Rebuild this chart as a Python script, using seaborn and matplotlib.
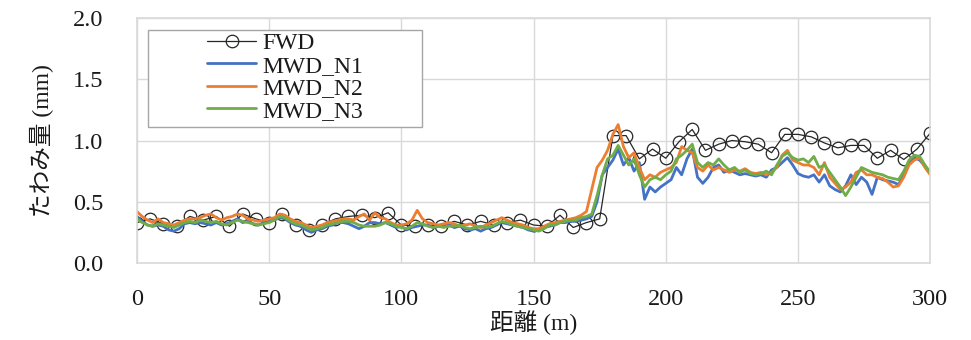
import numpy as np
import pandas as pd
import matplotlib
matplotlib.use("Agg")
import matplotlib.pyplot as plt
from matplotlib.patches import Rectangle
import seaborn as sns

# FWD deflection, measured every 5 m
fwd_x = list(range(0, 301, 5))
fwd_y = [0.33, 0.36, 0.32, 0.30, 0.38, 0.35, 0.38, 0.30, 0.40, 0.36,
         0.33, 0.40, 0.31, 0.27, 0.31, 0.36, 0.38, 0.39, 0.37, 0.41,
         0.31, 0.30, 0.31, 0.30, 0.34, 0.31, 0.34, 0.31, 0.33, 0.35,
         0.31, 0.30, 0.39, 0.29, 0.33, 0.36, 1.04, 1.04, 0.85, 0.93,
         0.855, 0.99, 1.09, 0.92, 0.97, 1.00, 0.99, 0.97, 0.90, 1.05,
         1.05, 1.03, 0.98, 0.94, 0.96, 0.96, 0.855, 0.92, 0.845, 0.93,
         1.06]

# MWD deflection, every 2 m
mwd_x = list(range(0, 301, 2))
mwd_n1 = [0.38, 0.34, 0.31, 0.30, 0.31, 0.30, 0.27, 0.26, 0.28, 0.32,
          0.33, 0.32, 0.33, 0.32, 0.31, 0.33, 0.31, 0.32, 0.34, 0.36,
          0.33, 0.34, 0.32, 0.31, 0.33, 0.34, 0.35, 0.37, 0.36, 0.33,
          0.31, 0.30, 0.27, 0.25, 0.27, 0.28, 0.30, 0.31, 0.33, 0.33,
          0.32, 0.30, 0.28, 0.30, 0.33, 0.33, 0.32, 0.33, 0.31, 0.29,
          0.30, 0.27, 0.29, 0.30, 0.31, 0.31, 0.29, 0.30, 0.31, 0.32,
          0.29, 0.30, 0.28, 0.27, 0.28, 0.26, 0.28, 0.29, 0.31, 0.33,
          0.32, 0.31, 0.30, 0.29, 0.27, 0.26, 0.27, 0.29, 0.30, 0.31,
          0.33, 0.33, 0.34, 0.34, 0.35, 0.36, 0.38, 0.50, 0.72, 0.78,
          0.84, 0.93, 0.80, 0.86, 0.75, 0.82, 0.52, 0.62, 0.58, 0.62,
          0.65, 0.68, 0.78, 0.72, 0.85, 0.93, 0.70, 0.65, 0.70, 0.78,
          0.80, 0.74, 0.76, 0.74, 0.72, 0.73, 0.72, 0.71, 0.72, 0.70,
          0.76, 0.78, 0.82, 0.86, 0.80, 0.73, 0.71, 0.70, 0.72, 0.66,
          0.72, 0.63, 0.60, 0.58, 0.63, 0.72, 0.64, 0.70, 0.66, 0.56,
          0.70, 0.68, 0.67, 0.66, 0.64, 0.72, 0.82, 0.86, 0.84, 0.79,
          0.74]
mwd_n2 = [0.42, 0.38, 0.35, 0.33, 0.36, 0.33, 0.32, 0.31, 0.33, 0.35,
          0.36, 0.36, 0.37, 0.39, 0.40, 0.37, 0.35, 0.37, 0.38, 0.40,
          0.39, 0.36, 0.35, 0.34, 0.35, 0.36, 0.37, 0.40, 0.39, 0.36,
          0.34, 0.33, 0.31, 0.29, 0.30, 0.31, 0.33, 0.34, 0.35, 0.36,
          0.36, 0.35, 0.38, 0.40, 0.35, 0.41, 0.37, 0.36, 0.33, 0.31,
          0.31, 0.32, 0.35, 0.43, 0.36, 0.33, 0.32, 0.31, 0.32, 0.33,
          0.32, 0.30, 0.31, 0.32, 0.30, 0.29, 0.31, 0.33, 0.35, 0.37,
          0.35, 0.33, 0.32, 0.31, 0.29, 0.28, 0.28, 0.30, 0.32, 0.33,
          0.34, 0.35, 0.36, 0.37, 0.39, 0.42, 0.60, 0.78, 0.84, 0.92,
          1.05, 1.13, 0.95, 0.86, 0.90, 0.78, 0.68, 0.72, 0.70, 0.74,
          0.76, 0.78, 0.82, 0.95, 0.92, 0.90, 0.78, 0.75, 0.80, 0.76,
          0.78, 0.76, 0.74, 0.76, 0.75, 0.77, 0.74, 0.73, 0.74, 0.72,
          0.74, 0.78, 0.88, 0.92, 0.84, 0.82, 0.80, 0.80, 0.78, 0.72,
          0.82, 0.70, 0.65, 0.60, 0.62, 0.66, 0.74, 0.76, 0.72, 0.72,
          0.70, 0.69, 0.66, 0.62, 0.63, 0.70, 0.80, 0.84, 0.86, 0.78,
          0.72]
mwd_n3 = [0.36, 0.33, 0.31, 0.30, 0.32, 0.31, 0.30, 0.29, 0.31, 0.33,
          0.34, 0.33, 0.35, 0.34, 0.33, 0.34, 0.32, 0.31, 0.33, 0.35,
          0.34, 0.33, 0.32, 0.31, 0.32, 0.33, 0.35, 0.38, 0.37, 0.34,
          0.32, 0.31, 0.29, 0.27, 0.28, 0.29, 0.31, 0.32, 0.33, 0.34,
          0.34, 0.33, 0.31, 0.30, 0.30, 0.30, 0.31, 0.33, 0.32, 0.30,
          0.29, 0.28, 0.30, 0.33, 0.32, 0.30, 0.29, 0.30, 0.29, 0.30,
          0.30, 0.31, 0.29, 0.28, 0.29, 0.30, 0.29, 0.30, 0.32, 0.34,
          0.33, 0.31, 0.30, 0.29, 0.28, 0.27, 0.26, 0.28, 0.31, 0.31,
          0.33, 0.34, 0.35, 0.35, 0.37, 0.38, 0.40, 0.55, 0.72, 0.85,
          0.88, 0.96, 0.88, 0.80, 0.85, 0.72, 0.62, 0.68, 0.70, 0.68,
          0.72, 0.75, 0.85, 0.88, 0.92, 0.97, 0.82, 0.78, 0.82, 0.80,
          0.85, 0.80, 0.76, 0.78, 0.74, 0.76, 0.73, 0.72, 0.73, 0.75,
          0.72, 0.80, 0.87, 0.90, 0.86, 0.84, 0.85, 0.82, 0.87, 0.78,
          0.80, 0.74, 0.68, 0.62, 0.55, 0.62, 0.70, 0.78, 0.76, 0.74,
          0.73, 0.72, 0.70, 0.69, 0.68, 0.75, 0.84, 0.88, 0.87, 0.80,
          0.74]

series_names = ["FWD", "MWD_N1", "MWD_N2", "MWD_N3"]
x_ticks = [0, 50, 100, 150, 200, 250, 300]
y_ticks = [0.0, 0.5, 1.0, 1.5, 2.0]

sns.set_theme(style="white")
plt.rcParams["font.family"] = ["Liberation Serif", "Noto Sans CJK JP"]

fig = plt.figure(figsize=(9.71, 3.40), dpi=100)
ax = fig.add_axes([0.141, 0.2265, 0.817, 0.7205])

sns.lineplot(x=fwd_x, y=fwd_y, ax=ax, color="#262626", linewidth=0.9,
             marker="o", markersize=9, markerfacecolor="none",
             markeredgecolor="#262626", markeredgewidth=0.9,
             label=series_names[0])
colors = ["#4472C4", "#ED7D31", "#70AD47"]
for name, vals, c in zip(series_names[1:], [mwd_n1, mwd_n2, mwd_n3], colors):
    sns.lineplot(x=mwd_x, y=vals, ax=ax, color=c, linewidth=2.0, label=name)

ax.set_xlim(0, 300)
ax.set_ylim(0, 2.0)
ax.set_xticks(x_ticks)
ax.set_yticks(y_ticks)
ax.set_yticklabels([f"{v:.1f}" for v in y_ticks])
ax.tick_params(axis="both", length=0, labelsize=17.5, colors="#1a1a1a")
ax.tick_params(axis="x", pad=19)
ax.tick_params(axis="y", pad=24)
ax.grid(True, color="#d9d9d9", linewidth=1.0)
for s in ax.spines.values():
    s.set_color("#d9d9d9")
    s.set_linewidth(1.2)

ax.set_xlabel("距離 (m)", fontsize=17, color="#1a1a1a", labelpad=0)
ax.set_ylabel("たわみ量 (mm)", fontsize=17, color="#1a1a1a", labelpad=14)

# legend box drawn as a plain white rectangle behind a frameless legend
ax.add_patch(Rectangle((0.0139, 0.555), 0.3455, 0.396, transform=ax.transAxes,
                       facecolor="white", edgecolor="#a6a6a6", linewidth=1.0,
                       zorder=4))
leg = ax.legend(loc="upper left", bbox_to_anchor=(0.088, 0.94), frameon=False,
                fontsize=17, handlelength=2.1, handletextpad=0.25,
                labelspacing=0.04, borderpad=0, borderaxespad=0)
leg.set_zorder(5)
for t in leg.get_texts():
    t.set_color("#1a1a1a")

fig.savefig("out.png", dpi=100, facecolor="white")
